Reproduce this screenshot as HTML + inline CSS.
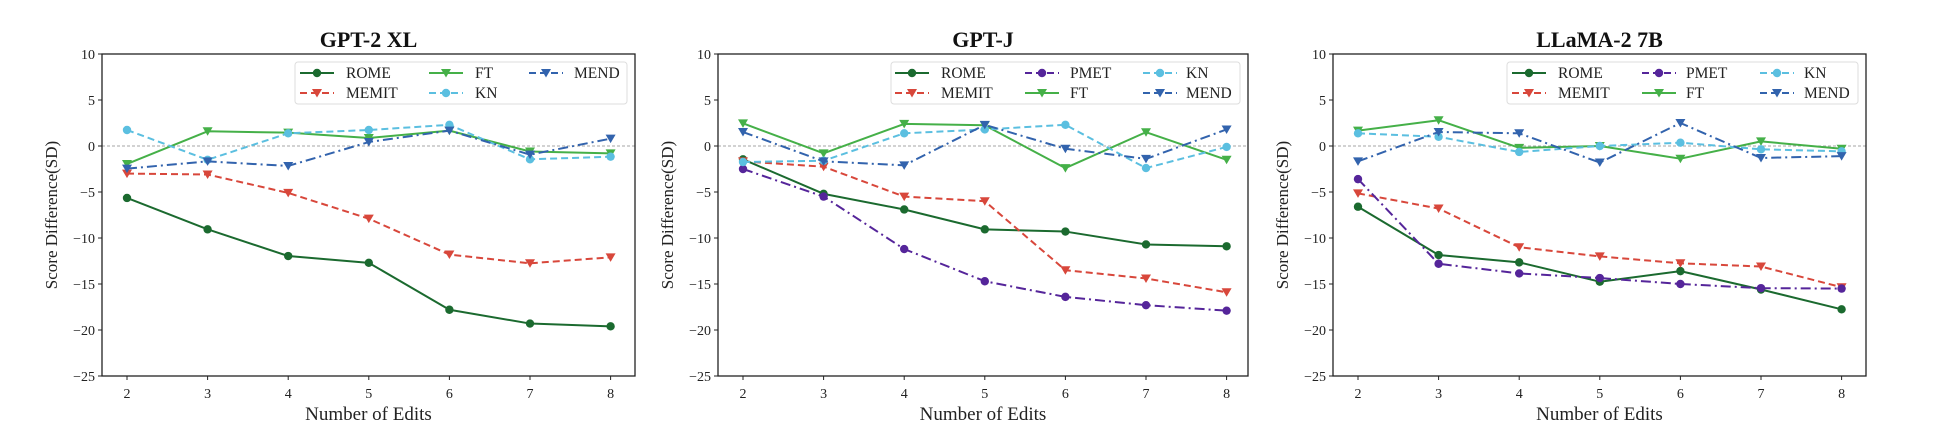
<!DOCTYPE html>
<html><head><meta charset="utf-8"><style>
html,body{margin:0;padding:0;background:#fff;}
svg{display:block;font-family:"Liberation Serif",serif;}
</style></head><body>
<svg id="chart" width="1943" height="429" viewBox="0 0 1943 429" xmlns="http://www.w3.org/2000/svg"></svg>
<script>
const xCategories = [2,3,4,5,6,7,8];
const yTicks = [10,5,0,-5,-10,-15,-20,-25];
const panelTitles = ["GPT-2 XL","GPT-J","LLaMA-2 7B"];
// Panel 1: GPT-2 XL
const p1Rome  = [-5.65,-9.06,-11.96,-12.7,-17.8,-19.3,-19.6];
const p1Memit = [-3.0,-3.1,-5.1,-7.9,-11.8,-12.75,-12.1];
const p1Ft    = [-1.95,1.6,1.45,0.87,1.67,-0.6,-0.8];
const p1Kn    = [1.74,-1.5,1.38,1.74,2.3,-1.45,-1.16];
const p1Mend  = [-2.46,-1.67,-2.17,0.43,1.67,-0.94,0.8];
// Panel 2: GPT-J
const p2Rome  = [-1.45,-5.2,-6.9,-9.06,-9.3,-10.7,-10.9];
const p2Memit = [-1.67,-2.25,-5.5,-6.0,-13.5,-14.4,-15.9];
const p2Pmet  = [-2.5,-5.5,-11.2,-14.7,-16.4,-17.3,-17.9];
const p2Ft    = [2.46,-0.8,2.4,2.25,-2.4,1.5,-1.5];
const p2Kn    = [-1.74,-1.6,1.38,1.8,2.3,-2.4,-0.1];
const p2Mend  = [1.52,-1.67,-2.1,2.3,-0.3,-1.4,1.8];
// Panel 3: LLaMA-2 7B
const p3Rome  = [-6.6,-11.85,-12.65,-14.75,-13.6,-15.6,-17.75];
const p3Memit = [-5.15,-6.8,-11.0,-12.0,-12.75,-13.1,-15.35];
const p3Pmet  = [-3.6,-12.8,-13.85,-14.35,-15.0,-15.45,-15.5];
const p3Ft    = [1.67,2.8,-0.2,0,-1.38,0.5,-0.3];
const p3Kn    = [1.38,1.0,-0.65,0,0.36,-0.36,-0.58];
const p3Mend  = [-1.67,1.52,1.38,-1.8,2.5,-1.3,-1.1];

const STY = {
  ROME:{c:'#1b6a2f',d:'',m:'o'},
  MEMIT:{c:'#d8473b',d:'7,4',m:'v'},
  PMET:{c:'#55259a',d:'10,4,2,4',m:'o'},
  FT:{c:'#45b048',d:'',m:'v'},
  KN:{c:'#5bbfe0',d:'7,4',m:'o'},
  MEND:{c:'#3263ad',d:'10,4,2,4',m:'v'}
};
const panels = [
  {L:102,R:635,x0:127,series:[['ROME',p1Rome],['MEMIT',p1Memit],['FT',p1Ft],['KN',p1Kn],['MEND',p1Mend]],
   leg:{x:295,w:332,cols:[300,429,529],tx:[346,475,574],order:[['ROME','MEMIT'],['FT','KN'],['MEND']]}},
  {L:718,R:1248,x0:743,series:[['ROME',p2Rome],['MEMIT',p2Memit],['PMET',p2Pmet],['FT',p2Ft],['KN',p2Kn],['MEND',p2Mend]],
   leg:{x:891,w:349,cols:[895,1025,1143],tx:[941,1070,1186],order:[['ROME','MEMIT'],['PMET','FT'],['KN','MEND']]}},
  {L:1333,R:1866,x0:1358,series:[['ROME',p3Rome],['MEMIT',p3Memit],['PMET',p3Pmet],['FT',p3Ft],['KN',p3Kn],['MEND',p3Mend]],
   leg:{x:1507,w:351,cols:[1512,1642,1760],tx:[1558,1686,1804],order:[['ROME','MEMIT'],['PMET','FT'],['KN','MEND']]}}
];
const T=54,B=376,YMAX=10,YMIN=-25,STEP=80.6;
const svg=document.getElementById('chart');
const NS='http://www.w3.org/2000/svg';
function mk(tag,attrs,parent){const e=document.createElementNS(NS,tag);for(const k in attrs)e.setAttribute(k,attrs[k]);(parent||svg).appendChild(e);return e;}
function yS(v){return T+(YMAX-v)/(YMAX-YMIN)*(B-T);}
function marker(g,type,x,y,c){
  let e;
  if(type==='o'){e=mk('circle',{cx:x,cy:y,r:4.2,fill:c},g);}
  else{e=mk('path',{d:`M${x-5},${y-4} L${x+5},${y-4} L${x},${y+4.5} Z`,fill:c},g);}
  
  
}
panels.forEach((p,pi)=>{
  const xS=i=>p.x0+(xCategories[i]-xCategories[0])*STEP;
  const g=mk('g',{});
  
  
  const t=mk('text',{x:(p.L+p.R)/2,y:47,'text-anchor':'middle','font-size':22,'font-weight':'bold',fill:'#111'},g);
  t.textContent=panelTitles[pi];
  
  
  const z=mk('line',{x1:p.L,x2:p.R,y1:yS(0),y2:yS(0),stroke:'#888','stroke-width':0.8,'stroke-dasharray':'3,2'},g);
  
  
  yTicks.forEach(v=>{
    const y=yS(v);
    mk('line',{x1:p.L-4,x2:p.L,y1:y,y2:y,stroke:'#222','stroke-width':1},g);
    const tl=mk('text',{x:p.L-7,y:y+5,'text-anchor':'end','font-size':14,fill:'#222'},g);
    tl.textContent=v<0?'\u2212'+Math.abs(v):String(v);
    
    
  });
  xCategories.forEach((c,i)=>{
    const x=xS(i);
    mk('line',{x1:x,x2:x,y1:B,y2:B+4,stroke:'#222','stroke-width':1},g);
    const tl=mk('text',{x:x,y:398,'text-anchor':'middle','font-size':14,fill:'#222'},g);
    tl.textContent=c;
    
    
  });
  const xl=mk('text',{x:(p.L+p.R)/2,y:420,'text-anchor':'middle','font-size':19,fill:'#222'},g);
  xl.textContent='Number of Edits';
  
  
  const yl=mk('text',{x:0,y:0,'text-anchor':'middle','font-size':17,fill:'#222',transform:`translate(${p.L-45},${(T+B)/2}) rotate(-90)`},g);
  yl.textContent='Score Difference(SD)';
  
  
  p.series.forEach(([name,vals])=>{
    const s=STY[name];
    const sg=mk('g',{},g);
    
    
    const pts=vals.map((v,i)=>xS(i)+','+yS(v)).join(' ');
    const pl=mk('polyline',{points:pts,fill:'none',stroke:s.c,'stroke-width':2,'stroke-dasharray':s.d||'none','stroke-linejoin':'round'},sg);
    
    
    vals.forEach((v,i)=>marker(sg,s.m,xS(i),yS(v),s.c));
  });
  const fr=mk('rect',{x:p.L,y:T,width:p.R-p.L,height:B-T,fill:'none',stroke:'#222','stroke-width':1.3},g);
  
  
  const lg=mk('g',{},g);
  
  
  mk('rect',{x:p.leg.x,y:62,width:p.leg.w,height:42,rx:3,fill:'#fff',stroke:'#ddd','stroke-width':1},lg);
  p.leg.order.forEach((col,ci)=>{
    col.forEach((name,ri)=>{
      const s=STY[name];const y=73+ri*20;const hx=p.leg.cols[ci];
      const eg=mk('g',{},lg);
      
      
      mk('line',{x1:hx,x2:hx+34,y1:y,y2:y,stroke:s.c,'stroke-width':2,'stroke-dasharray':s.d?'7,4':'none'},eg);
      marker(eg,s.m,hx+17,y,s.c);
      const lt=mk('text',{x:p.leg.tx[ci],y:y+5,'font-size':15.5,fill:'#222'},eg);
      lt.textContent=name;
    });
  });
});
</script>
</body></html>
